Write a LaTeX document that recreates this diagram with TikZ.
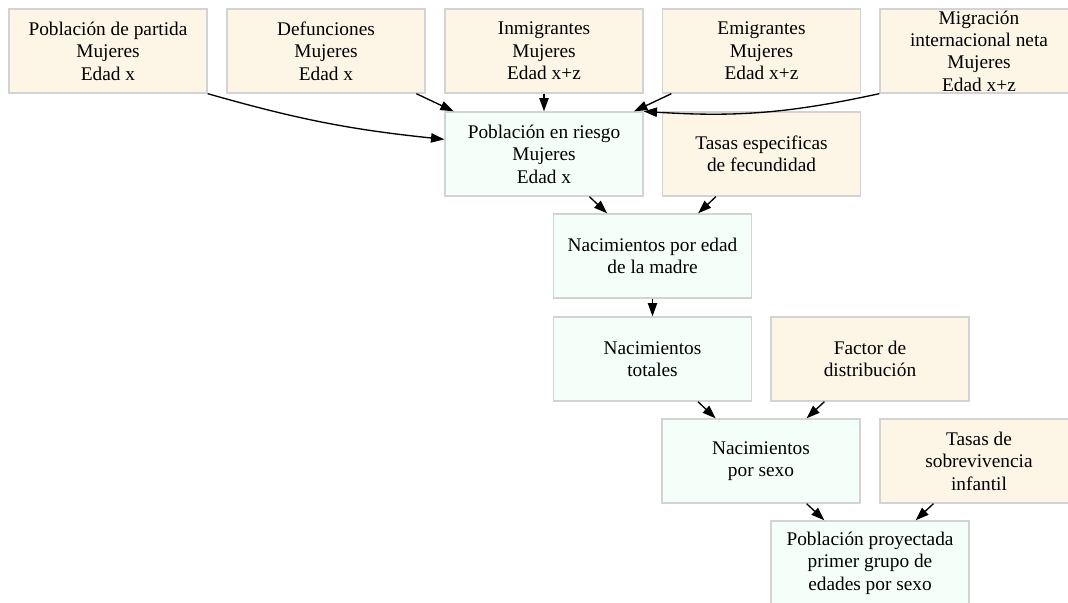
\documentclass[tikz,border=0pt]{standalone}
\usepackage{fontspec}
\setmainfont{Liberation Serif}
\usetikzlibrary{arrows.meta}
\definecolor{beige}{RGB}{253,245,230}
\definecolor{menta}{RGB}{245,255,250}
\definecolor{borde}{RGB}{211,211,211}

\begin{document}
\begin{tikzpicture}[x=0.75pt,y=-0.75pt]
        \tikzset{caja/.style={draw=borde,line width=1pt,rectangle,
                minimum width=148.5pt,minimum height=63pt,inner ysep=0pt,
                align=center,font=\fontsize{14.5pt}{16.8pt}\selectfont},
            dato/.style={caja,fill=beige},
            calculo/.style={caja,fill=menta},
            flecha/.style={draw,line width=1pt,-{Triangle[length=10pt,width=7pt]}}}
        \useasboundingbox (0,0) rectangle (1068,603);
        % fila superior
        \node[dato] (partida) at (108,51) {Población de partida\\Mujeres\\Edad x};
        \node[dato] (defunciones) at (326,51) {Defunciones\\Mujeres\\Edad x};
        \node[dato] (inmigrantes) at (544,51) {Inmigrantes\\Mujeres\\Edad x+z};
        \node[dato] (emigrantes) at (761.5,51) {Emigrantes\\Mujeres\\Edad x+z};
        \node[dato] (migracion) at (979,51) {Migración\\internacional neta\\Mujeres\\Edad x+z};
        % resto
        \node[calculo] (riesgo) at (544,154) {Población en riesgo\\Mujeres\\Edad x};
        \node[dato] (tasas) at (761.5,154) {Tasas especificas\\de fecundidad};
        \node[calculo] (nacedad) at (652.5,256) {Nacimientos por edad\\de la madre};
        \node[calculo] (nactotal) at (652.5,359) {Nacimientos\\totales};
        \node[dato] (factor) at (870,359) {Factor de\\distribución};
        \node[calculo] (nacsexo) at (761,461) {Nacimientos\\por sexo};
        \node[dato] (sobrev) at (979,461) {Tasas de\\sobrevivencia\\infantil};
        \node[calculo] (proyectada) at (870,563) {Población proyectada\\primer grupo de\\edades por sexo};
        % flechas
        \path[flecha] (partida.south east) to[bend right=5] ([yshift=11pt]riesgo.west);
        \path[flecha] (defunciones) -- (riesgo);
        \path[flecha] (inmigrantes) -- (riesgo);
        \path[flecha] (emigrantes) -- (riesgo);
        \path[flecha] (migracion.south west) to[bend left=8] (riesgo.north east);
        \path[flecha] (riesgo) -- (nacedad);
        \path[flecha] (tasas) -- (nacedad);
        \path[flecha] (nacedad) -- (nactotal);
        \path[flecha] (nactotal) -- (nacsexo);
        \path[flecha] (factor) -- (nacsexo);
        \path[flecha] (nacsexo) -- (proyectada);
        \path[flecha] (sobrev) -- (proyectada);
\end{tikzpicture}
\end{document}
